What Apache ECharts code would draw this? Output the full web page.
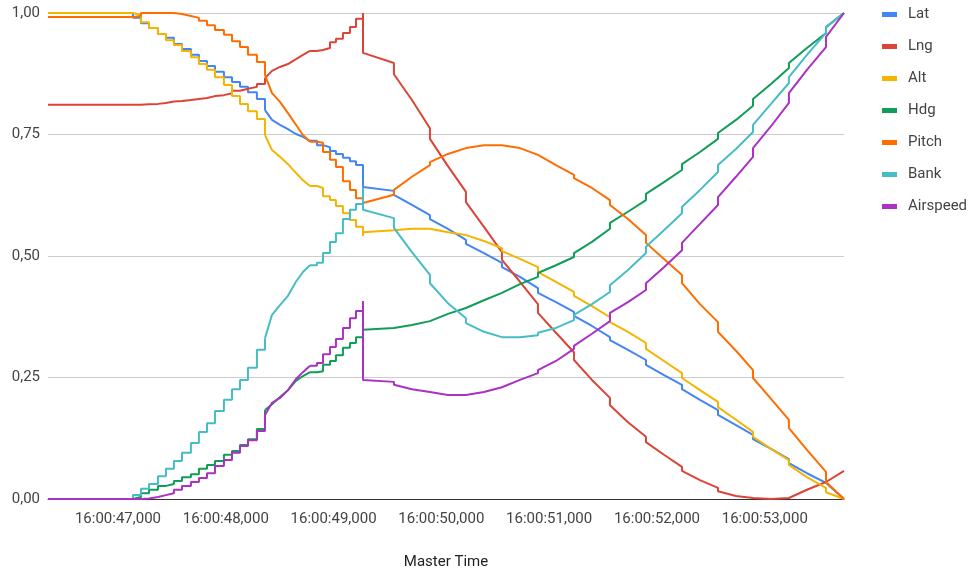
<!DOCTYPE html>
<html>
<head>
<meta charset="UTF-8">
<title>Master Time</title>
<script src="https://cdn.jsdelivr.net/npm/echarts@6/dist/echarts.min.js"></script>
</head>
<body style="margin:0">
<div id="main" style="width:970px;height:571px;"></div>
<script type="text/javascript">
// Zeitstempel (Sekunden nach 16:00): timeA bis zum Sprung, timeB danach
var timeA = [46.351, 47.139, 47.213, 47.288, 47.371, 47.445, 47.519, 47.594, 47.677, 47.751,
    47.826, 47.900, 47.983, 48.058, 48.132, 48.206, 48.289, 48.364, 48.429, 48.503,
    48.577, 48.651, 48.716, 48.781, 48.846, 48.902, 48.967, 49.022, 49.087, 49.152,
    49.208, 49.273];
var timeB = [49.273, 49.273, 49.560, 49.560, 49.727, 49.894, 49.894, 50.061, 50.228, 50.228,
    50.395, 50.562, 50.562, 50.729, 50.896, 50.896, 51.063, 51.230, 51.230, 51.397,
    51.564, 51.564, 51.731, 51.898, 51.898, 52.065, 52.232, 52.232, 52.399, 52.566,
    52.566, 52.733, 52.891, 52.891, 53.058, 53.224, 53.224, 53.391, 53.568, 53.568, 53.735];
// Abschnitte von timeA: [start, ende, treppe?]
var pieces = [[0, 17, true], [17, 23, false], [23, 31, true]];
var xTicks = [47, 48, 49, 50, 51, 52, 53];
var yTicks = [0, 0.25, 0.5, 0.75, 1];

var latA = [1.0, 0.990, 0.979, 0.969, 0.957, 0.949, 0.936, 0.926, 0.914, 0.901, 0.891, 0.879, 0.868, 0.858, 0.848, 0.837, 0.823, 0.800, 0.780, 0.770, 0.761, 0.751, 0.745, 0.737, 0.728, 0.724, 0.716, 0.710, 0.702, 0.695, 0.687, 0.673];
var latB = [0.673, 0.642, 0.634, 0.626, 0.605, 0.584, 0.576, 0.556, 0.533, 0.525, 0.506, 0.486, 0.477, 0.457, 0.434, 0.424, 0.405, 0.385, 0.377, 0.356, 0.333, 0.327, 0.307, 0.286, 0.276, 0.255, 0.235, 0.226, 0.204, 0.183, 0.173, 0.152, 0.132, 0.123, 0.103, 0.082, 0.074, 0.053, 0.033, 0.030, 0];

var lngA = [0.811, 0.811, 0.812, 0.813, 0.815, 0.818, 0.819, 0.821, 0.823, 0.825, 0.829, 0.831, 0.835, 0.840, 0.844, 0.848, 0.854, 0.866, 0.881, 0.889, 0.895, 0.905, 0.914, 0.922, 0.924, 0.928, 0.940, 0.947, 0.959, 0.971, 0.988, 1.0];
var lngB = [1.0, 0.918, 0.897, 0.874, 0.821, 0.763, 0.741, 0.685, 0.632, 0.611, 0.560, 0.508, 0.492, 0.447, 0.401, 0.383, 0.342, 0.302, 0.286, 0.245, 0.208, 0.193, 0.158, 0.128, 0.117, 0.091, 0.066, 0.058, 0.039, 0.023, 0.016, 0.006, 0.002, 0.001, 0, 0.002, 0.004, 0.019, 0.035, 0.037, 0.058];

var altA = [1.0, 0.996, 0.981, 0.969, 0.957, 0.944, 0.934, 0.922, 0.909, 0.895, 0.883, 0.868, 0.852, 0.829, 0.813, 0.798, 0.782, 0.749, 0.718, 0.704, 0.689, 0.671, 0.656, 0.644, 0.640, 0.623, 0.615, 0.603, 0.588, 0.574, 0.560, 0.541];
var altB = [0.541, 0.549, 0.553, 0.553, 0.556, 0.556, 0.553, 0.549, 0.543, 0.539, 0.531, 0.516, 0.510, 0.494, 0.477, 0.467, 0.447, 0.426, 0.418, 0.397, 0.374, 0.364, 0.344, 0.321, 0.309, 0.284, 0.259, 0.249, 0.224, 0.200, 0.189, 0.163, 0.138, 0.128, 0.103, 0.080, 0.070, 0.045, 0.023, 0.014, 0];

var hdgA = [0, 0.004, 0.012, 0.019, 0.027, 0.031, 0.037, 0.045, 0.051, 0.062, 0.070, 0.078, 0.091, 0.099, 0.111, 0.123, 0.144, 0.183, 0.195, 0.210, 0.224, 0.243, 0.253, 0.261, 0.263, 0.276, 0.284, 0.296, 0.311, 0.321, 0.333, 0.348];
var hdgB = [0.348, 0.350, 0.352, 0.354, 0.358, 0.366, 0.370, 0.381, 0.393, 0.397, 0.409, 0.424, 0.428, 0.442, 0.457, 0.465, 0.481, 0.498, 0.506, 0.529, 0.556, 0.568, 0.591, 0.615, 0.628, 0.652, 0.677, 0.689, 0.714, 0.741, 0.753, 0.780, 0.809, 0.823, 0.854, 0.887, 0.897, 0.928, 0.959, 0.971, 1.0];

var pitchA = [0.992, 0.994, 1.0, 1.0, 1.0, 1.0, 0.998, 0.994, 0.990, 0.984, 0.975, 0.965, 0.955, 0.942, 0.930, 0.914, 0.899, 0.872, 0.835, 0.817, 0.794, 0.770, 0.749, 0.735, 0.733, 0.714, 0.698, 0.683, 0.654, 0.636, 0.619, 0.609];
var pitchB = [0.609, 0.609, 0.626, 0.636, 0.663, 0.687, 0.693, 0.710, 0.722, 0.724, 0.728, 0.728, 0.728, 0.722, 0.708, 0.704, 0.687, 0.667, 0.660, 0.640, 0.615, 0.605, 0.576, 0.543, 0.527, 0.494, 0.461, 0.444, 0.401, 0.364, 0.344, 0.305, 0.265, 0.249, 0.206, 0.163, 0.146, 0.101, 0.056, 0.035, 0];

var bankA = [0, 0.008, 0.021, 0.031, 0.047, 0.062, 0.078, 0.095, 0.115, 0.138, 0.156, 0.181, 0.204, 0.226, 0.245, 0.270, 0.307, 0.331, 0.379, 0.399, 0.418, 0.447, 0.467, 0.481, 0.486, 0.506, 0.529, 0.547, 0.576, 0.595, 0.607, 0.640];
var bankB = [0.640, 0.595, 0.578, 0.558, 0.508, 0.461, 0.444, 0.403, 0.372, 0.362, 0.344, 0.333, 0.333, 0.333, 0.337, 0.342, 0.352, 0.368, 0.379, 0.401, 0.426, 0.440, 0.471, 0.506, 0.519, 0.553, 0.588, 0.601, 0.636, 0.673, 0.687, 0.720, 0.755, 0.770, 0.813, 0.856, 0.868, 0.914, 0.959, 0.971, 1.0];

var airA = [0, 0, 0.001, 0.004, 0.008, 0.012, 0.019, 0.027, 0.035, 0.043, 0.053, 0.068, 0.080, 0.095, 0.109, 0.121, 0.140, 0.173, 0.198, 0.208, 0.224, 0.247, 0.261, 0.274, 0.280, 0.298, 0.313, 0.329, 0.352, 0.372, 0.387, 0.407];
var airB = [0.407, 0.245, 0.241, 0.235, 0.226, 0.220, 0.218, 0.214, 0.214, 0.214, 0.220, 0.230, 0.233, 0.245, 0.259, 0.265, 0.284, 0.309, 0.315, 0.340, 0.366, 0.383, 0.405, 0.430, 0.444, 0.477, 0.512, 0.527, 0.566, 0.605, 0.621, 0.663, 0.704, 0.722, 0.767, 0.815, 0.835, 0.883, 0.930, 0.951, 1.0];

var names = ['Lat', 'Lng', 'Alt', 'Hdg', 'Pitch', 'Bank', 'Airspeed'];
var colors = ['#4285f4', '#db4437', '#f4b400', '#0f9d58', '#ff6d00', '#46bdc6', '#ab30c4'];
var partA = [latA, lngA, altA, hdgA, pitchA, bankA, airA];
var partB = [latB, lngB, altB, hdgB, pitchB, bankB, airB];

function lineSeries(i, data, step) {
    var s = {
        name: names[i],
        type: 'line',
        symbol: 'none',
        lineStyle: {color: colors[i], width: 2},
        itemStyle: {color: colors[i]},
        data: data
    };
    if (step) s.step = 'end';
    return s;
}

var series = [];
for (var i = 0; i < names.length; i++) {
    pieces.forEach(function (p) {
        var d = [];
        for (var k = p[0]; k <= p[1]; k++) d.push([timeA[k], partA[i][k]]);
        series.push(lineSeries(i, d, p[2]));
    });
    series.push(lineSeries(i, timeB.map(function (t, k) { return [t, partB[i][k]]; }), false));
}

var myChart = echarts.init(document.getElementById('main'));
myChart.setOption({
    animation: false,
    textStyle: {fontFamily: 'Roboto'},
    grid: {left: 48, right: 126, top: 13, bottom: 72, outerBoundsMode: 'none', containLabel: false},
    legend: {
        data: names,
        orient: 'vertical',
        left: 877,
        top: 2,
        icon: 'rect',
        itemWidth: 15,
        itemHeight: 5,
        itemGap: 17,
        textStyle: {fontSize: 15, color: '#444', fontFamily: 'Roboto', padding: [0, 0, 0, 6]}
    },
    xAxis: {
        type: 'value',
        min: 46.351,
        max: 53.735,
        name: 'Master Time',
        nameLocation: 'middle',
        nameGap: 56,
        nameTextStyle: {fontSize: 15, color: '#222', fontFamily: 'Roboto'},
        axisLine: {lineStyle: {color: '#333', width: 1}},
        axisTick: {show: false},
        splitLine: {show: false},
        axisLabel: {
            customValues: xTicks,
            fontSize: 15,
            color: '#444',
            margin: 13,
            formatter: function (v) { return '16:00:' + v.toFixed(3).replace('.', ','); }
        }
    },
    yAxis: {
        type: 'value',
        min: 0,
        max: 1,
        interval: 0.25,
        axisLine: {show: false},
        axisTick: {show: false},
        splitLine: {lineStyle: {color: '#cccccc'}},
        axisLabel: {
            customValues: yTicks,
            fontSize: 15,
            color: '#444',
            margin: 8,
            formatter: function (v) { return v.toFixed(2).replace('.', ','); }
        }
    },
    series: series
});
</script>
</body>
</html>
